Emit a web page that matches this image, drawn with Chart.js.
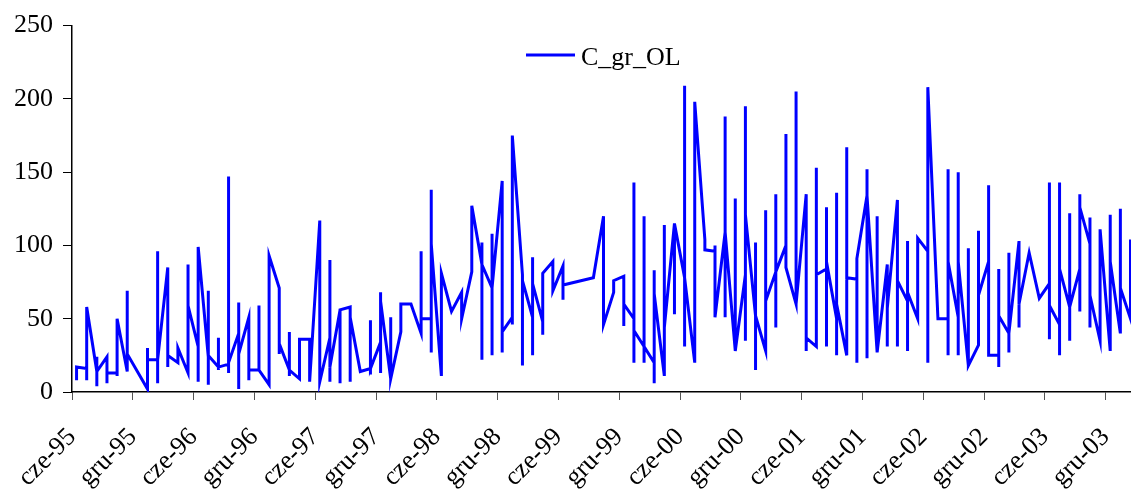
<!DOCTYPE html>
<html>
<head>
<meta charset="utf-8">
<script src="https://cdn.jsdelivr.net/npm/chart.js@4.4.1/dist/chart.umd.min.js"></script>
<style>
    body { margin: 0; background: #fff; }
    #wrap { width: 1131px; height: 494px; position: relative; }
</style>
</head>
<body>
<div id="wrap"><canvas id="chart"></canvas></div>
<script>
// month number counted from June 1995 (0 = cze-95); missing months are skipped
const monthIndex = [
    0, 1, 2, 3, 4, 5, 7, 8, 9, 10, 11, 12, 13, 14, 15, 16, 17, 18, 19, 20,
    21, 22, 23, 24, 25, 26, 27, 28, 29, 30, 31, 32, 33, 34, 35, 36, 37, 38, 39, 40,
    41, 42, 43, 44, 45, 46, 47, 48, 51, 52, 53, 54, 55, 56, 57, 58, 59, 60, 61, 62,
    63, 64, 65, 66, 67, 68, 69, 70, 71, 72, 73, 74, 75, 76, 77, 78, 79, 80, 81, 82,
    83, 84, 85, 86, 87, 88, 89, 90, 91, 92, 93, 94, 95, 96, 97, 98, 99, 100, 101, 102,
    103, 104
];

// readings within each month, in order
const monthValues = [
    [8, 17], [16, 8, 58], [14, 24, 4, 14], [24, 6, 13], [13, 11, 50], [14, 69, 26],
    [2, 30, 22], [22, 96, 6, 22], [85, 17, 25], [20, 30], [13, 87, 59], [31, 7, 99],
    [24, 5, 69, 25], [17, 37, 15, 17], [19, 147, 13, 20], [40, 61, 2, 26], [51, 8, 15],
    [15, 59, 15], [5, 93], [71, 26, 33], [15, 41, 11, 15], [9, 36], [36, 7], [117, 7],
    [37, 90, 7, 17], [56, 6, 56], [58, 7, 51], [14], [16, 49, 12, 16], [34, 13, 68, 62],
    [9, 51, 9], [41, 60], [60], [40, 96, 50], [50, 27, 138, 101], [11, 81], [55], [68, 50],
    [82, 127], [87, 102, 22, 87], [71, 108, 25, 71], [144, 27, 41], [51, 46, 175],
    [80, 18, 76], [51, 92, 25, 74], [48, 39, 81], [89, 69], [86, 63, 73],
    [78], [120, 46], [68, 76], [79, 45, 60], [50, 143, 20, 42], [31, 120, 20, 31],
    [20, 6, 83, 67], [11, 114, 44], [115, 53, 115], [78, 209, 31, 78], [20, 198], [104, 97],
    [96, 100, 51], [109, 188, 51, 109], [28, 132, 28], [80, 195, 35, 121], [52, 102, 15, 52],
    [28, 124, 62], [82, 135, 44, 82], [100, 176, 85], [60, 205, 60], [135, 28, 37],
    [31, 153, 80], [84, 126, 31, 89], [50, 136, 25, 60], [25, 167, 78], [77, 20, 91],
    [134, 152, 23, 134], [27, 120, 27], [87, 31, 57], [131, 31, 76], [62, 103, 28, 68],
    [50, 105], [96, 20, 208], [50], [50, 152, 25, 89], [51, 150, 25, 89], [18, 98, 18],
    [32, 110, 66], [89, 141, 25], [25, 84, 17, 52], [40, 27, 95, 40], [103, 44, 60],
    [95], [64], [74, 143, 36, 59], [46, 143, 25, 84], [58, 122, 35, 58], [84, 135, 55, 126],
    [101, 119, 44, 66], [35, 111], [28, 121, 89], [40, 125, 71], [50, 104, 50]
];

const tickLabels = [
    "cze-95", "gru-95", "cze-96", "gru-96", "cze-97", "gru-97", "cze-98", "gru-98", "cze-99",
    "gru-99", "cze-00", "gru-00", "cze-01", "gru-01", "cze-02", "gru-02", "cze-03", "gru-03"
];
const seriesName = "C_gr_OL";

const FONT = "'Liberation Serif', 'Times New Roman', serif";

// one point per reading, placed inside its month slot
const points = [];
monthIndex.forEach((m, i) => {
    monthValues[i].forEach(v => points.push({ x: m + 0.45, y: v }));
});

// legend drawn inside the plot like the original
const innerLegend = {
    id: "innerLegend",
    afterDraw(chart) {
        const ctx = chart.ctx;
        ctx.save();
        ctx.strokeStyle = "#0000ff";
        ctx.lineWidth = 3;
        ctx.beginPath();
        ctx.moveTo(526, 55);
        ctx.lineTo(575, 55);
        ctx.stroke();
        ctx.fillStyle = "#000";
        ctx.font = "26px " + FONT;
        ctx.textBaseline = "alphabetic";
        ctx.fillText(seriesName, 581, 65);
        ctx.restore();
    }
};

new Chart(document.getElementById("chart"), {
    type: "line",
    data: {
        datasets: [{
            label: seriesName,
            data: points,
            borderColor: "#0000ff",
            borderWidth: 3,
            pointRadius: 0,
            tension: 0,
            fill: false
        }]
    },
    options: {
        responsive: true,
        maintainAspectRatio: false,
        animation: false,
        layout: { padding: { top: 22, right: 0, left: 0, bottom: 0 } },
        plugins: { legend: { display: false }, tooltip: { enabled: false } },
        scales: {
            x: {
                type: "linear",
                min: 0,
                max: 104.5,
                afterBuildTicks: s => { s.ticks = tickLabels.map((_, i) => ({ value: i * 6 })); },
                // fixed axis height, and no extra side padding for the slanted labels
                afterFit: s => { s.height = 102; s.paddingLeft = 0; s.paddingRight = 0; },
                grid: { drawOnChartArea: false, drawTicks: true, tickLength: 8, tickColor: "#555" },
                border: { color: "#000", width: 1.5 },
                ticks: {
                    autoSkip: false,
                    minRotation: 45,
                    maxRotation: 45,
                    padding: 22,
                    color: "#000",
                    font: { family: FONT, size: 26 },
                    callback: v => tickLabels[Math.round(v / 6)]
                }
            },
            y: {
                min: 0,
                max: 250,
                afterFit: s => { s.width = 72; },
                grid: { drawOnChartArea: false, drawTicks: true, tickLength: 9, tickColor: "#000" },
                border: { color: "#000", width: 1.5 },
                ticks: {
                    stepSize: 50,
                    padding: 10,
                    color: "#000",
                    font: { family: FONT, size: 26 }
                }
            }
        }
    },
    plugins: [innerLegend]
});
</script>
</body>
</html>
